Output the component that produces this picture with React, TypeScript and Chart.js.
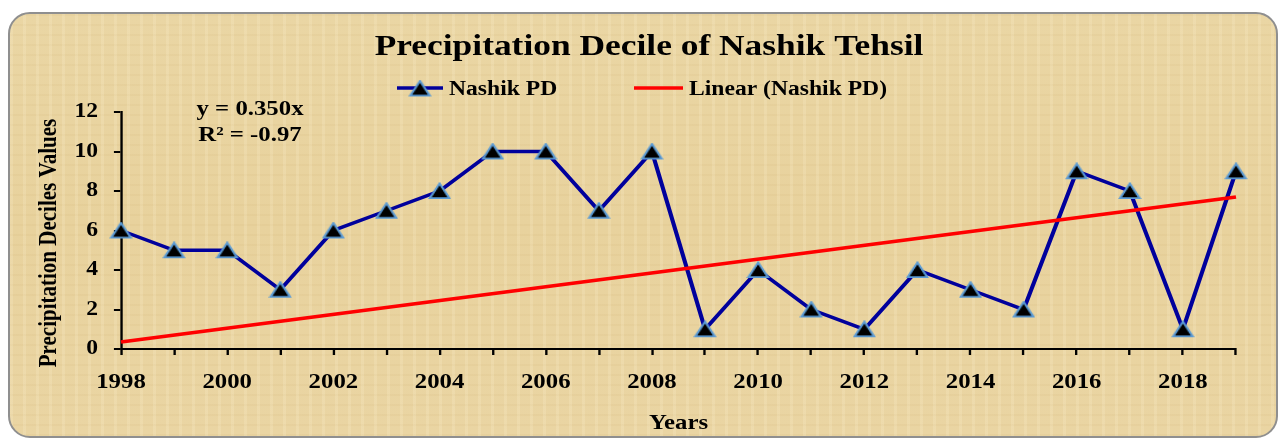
import React, { useEffect, useRef } from 'react';
import { Chart, registerables } from 'chart.js';

Chart.register(...registerables);

// ---------- data ----------
const years: string[] = [
  '1998', '1999', '2000', '2001', '2002', '2003', '2004', '2005', '2006', '2007', '2008',
  '2009', '2010', '2011', '2012', '2013', '2014', '2015', '2016', '2017', '2018', '2019',
];
const nashikPD: number[] = [6, 5, 5, 3, 6, 7, 8, 10, 10, 7, 10, 1, 4, 2, 1, 4, 3, 2, 9, 8, 1, 9];
const trendLine: (number | null)[] = [
  0.35, null, null, null, null, null, null, null, null, null, null,
  null, null, null, null, null, null, null, null, null, null, 7.7,
];
const yMin = 0;
const yMax = 12;
const yStep = 2;
const chartTitle = 'Precipitation Decile of Nashik Tehsil';
const seriesLabel = 'Nashik PD';
const trendLabel = 'Linear (Nashik PD)';
const equationLines: string[] = ['y = 0.350x', 'R² = -0.97'];
const xTitle = 'Years';
const yTitle = 'Precipitation Deciles Values';

// ---------- layout / style ----------
const W = 1279;
const H = 439;
const SX = 1.18; // horizontal stretch of the original picture
const LW = Math.round(W / SX);
const FONT = '"Liberation Serif", "Times New Roman", serif';
const NAVY = '#00009c';
const RED = '#ff0000';
const TRI_EDGE = '#5b9bd5';

function makeTriangle(): HTMLCanvasElement {
  const c = document.createElement('canvas');
  c.width = 20;
  c.height = 18;
  const g = c.getContext('2d')!;
  g.beginPath();
  g.moveTo(10, 1.5);
  g.lineTo(18.3, 16.2);
  g.lineTo(1.7, 16.2);
  g.closePath();
  g.fillStyle = '#000000';
  g.fill();
  g.lineWidth = 1.8;
  g.strokeStyle = TRI_EDGE;
  g.lineJoin = 'miter';
  g.stroke();
  return c;
}

export default function App() {
  const ref = useRef<HTMLCanvasElement | null>(null);

  useEffect(() => {
    const canvas = ref.current;
    if (!canvas) return;
    const tri = makeTriangle();
    const sx = (px: number) => px / SX;

    const stretchPlugin = {
      id: 'stretch',
      beforeDraw(chart: any) {
        const c = chart.canvas as HTMLCanvasElement;
        if (c.width !== W) c.width = W;
        chart.ctx.setTransform(SX, 0, 0, 1, 0, 0);
      },
    };

    const decorPlugin = {
      id: 'decor',
      afterDraw(chart: any) {
        const ctx = chart.ctx as CanvasRenderingContext2D;
        const ds = chart.data.datasets;
        ctx.save();
        ctx.fillStyle = '#000';
        // title
        ctx.textAlign = 'center';
        ctx.textBaseline = 'alphabetic';
        ctx.font = `bold 30px ${FONT}`;
        ctx.fillText(chartTitle, sx(649), 55);

        // legend
        const ly = 88;
        ctx.lineWidth = 3.5;
        ctx.strokeStyle = ds[0].borderColor;
        ctx.beginPath();
        ctx.moveTo(sx(397), ly);
        ctx.lineTo(sx(443), ly);
        ctx.stroke();
        ctx.drawImage(tri, sx(420) - tri.width / 2, ly - tri.height / 2 + 0.5);
        ctx.strokeStyle = ds[1].borderColor;
        ctx.beginPath();
        ctx.moveTo(sx(634), ly);
        ctx.lineTo(sx(683), ly);
        ctx.stroke();
        ctx.textAlign = 'left';
        ctx.font = `bold 20px ${FONT}`;
        ctx.fillText(ds[0].label, sx(449), 95);
        ctx.fillText(ds[1].label, sx(689), 95);

        // equation annotation
        ctx.textAlign = 'center';
        ctx.font = `bold 21px ${FONT}`;
        ctx.fillText(equationLines[0], sx(250), 115);
        ctx.fillText(equationLines[1], sx(250), 141);

        // y axis title
        ctx.save();
        ctx.translate(sx(50), 243);
        ctx.rotate(-Math.PI / 2);
        ctx.textAlign = 'center';
        ctx.textBaseline = 'middle';
        ctx.font = `bold 21px ${FONT}`;
        ctx.fillText(yTitle, 0, 0);
        ctx.restore();

        ctx.restore();
      },
    };

    const chart = new Chart(canvas, {
      type: 'line',
      data: {
        labels: years,
        datasets: [
          {
            label: seriesLabel,
            data: nashikPD,
            borderColor: NAVY,
            backgroundColor: NAVY,
            borderWidth: 3.5,
            pointStyle: tri as any,
            pointRadius: 9,
            pointHoverRadius: 9,
            tension: 0,
            clip: false as any,
            order: 1,
          },
          {
            label: trendLabel,
            data: trendLine,
            borderColor: RED,
            backgroundColor: RED,
            borderWidth: 3.5,
            pointRadius: 0,
            pointHoverRadius: 0,
            spanGaps: true,
            tension: 0,
            clip: false as any,
            order: 0,
          },
        ],
      },
      options: {
        responsive: false,
        maintainAspectRatio: false,
        devicePixelRatio: 1,
        animation: false,
        events: [],
        layout: { padding: { top: 112, left: 0, right: LW - sx(1236), bottom: 0 } },
        plugins: {
          legend: { display: false },
          title: { display: false },
          tooltip: { enabled: false },
        },
        scales: {
          x: {
            type: 'category',
            offset: false,
            afterFit: (s: any) => {
              s.height = H - 349;
            },
            border: { display: true, color: '#000', width: 2 },
            grid: {
              display: true,
              drawOnChartArea: false,
              drawTicks: true,
              tickLength: 6,
              color: '#000',
              lineWidth: 2,
            },
            ticks: {
              autoSkip: false,
              maxRotation: 0,
              minRotation: 0,
              padding: 15,
              color: '#000',
              font: { family: FONT, size: 21, weight: 'bold' },
              callback: (_v: any, i: number) => (i % 2 === 0 ? years[i] : ''),
            },
            title: {
              display: true,
              text: xTitle,
              color: '#000',
              font: { family: FONT, size: 21, weight: 'bold' },
              padding: { top: 0, bottom: 3 },
            },
          },
          y: {
            min: yMin,
            max: yMax,
            afterFit: (s: any) => {
              s.width = sx(121);
            },
            border: { display: true, color: '#000', width: 2 },
            grid: {
              display: true,
              drawOnChartArea: false,
              drawTicks: true,
              tickLength: 6,
              color: '#000',
              lineWidth: 2,
            },
            ticks: {
              stepSize: yStep,
              padding: 13.5,
              color: '#000',
              font: { family: FONT, size: 20, weight: 'bold' },
            },
          },
        },
      },
      plugins: [stretchPlugin, decorPlugin],
    } as any);

    return () => chart.destroy();
  }, []);

  const paper =
    'repeating-linear-gradient(90deg, rgba(255,245,215,0.18) 0px, rgba(255,245,215,0.18) 3px, rgba(0,0,0,0) 3px, rgba(0,0,0,0) 13px),' +
    'repeating-linear-gradient(0deg, rgba(190,150,80,0.07) 0px, rgba(190,150,80,0.07) 2px, rgba(0,0,0,0) 2px, rgba(0,0,0,0) 10px),' +
    'linear-gradient(180deg, #ead6a4 0%, #e8d29d 50%, #ead5a3 100%)';

  return (
    <div style={{ position: 'fixed', left: 0, top: 0, width: W, height: H, background: '#fff', overflow: 'hidden' }}>
      <div
        style={{
          position: 'absolute',
          left: 8,
          top: 12,
          width: 1270,
          height: 426,
          boxSizing: 'border-box',
          border: '2px solid #8f8f8f',
          borderRadius: 22,
          background: paper,
        }}
      />
      <canvas
        ref={ref}
        width={LW}
        height={H}
        style={{ position: 'absolute', left: 0, top: 0, width: W, height: H, display: 'block' }}
      />
    </div>
  );
}
